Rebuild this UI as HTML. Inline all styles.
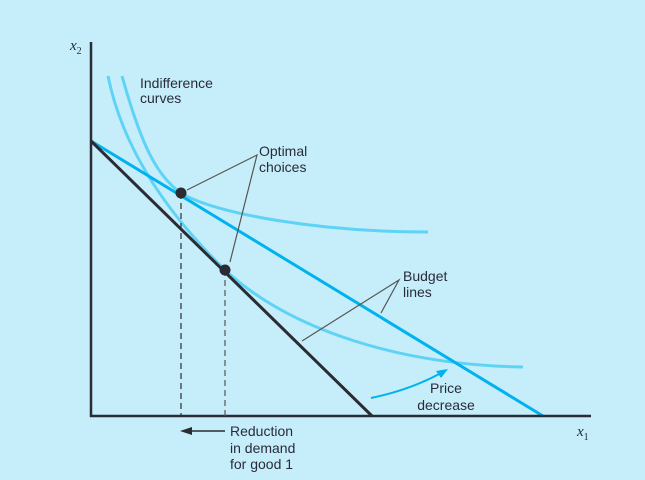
<!DOCTYPE html>
<html><head><style>
body{margin:0;background:#c5eefa;}
svg{display:block;}
text{font-family:"Liberation Sans",sans-serif;font-size:14px;fill:#2a2a3a;}
</style></head><body>
<svg width="645" height="480" viewBox="0 0 645 480">
<rect width="645" height="480" fill="#c5eefa"/>
<!-- indifference curves -->
<path d="M122,76 C140,140 155,175 181,193 C215,214 320,232 428,232" fill="none" stroke="#5fd3f5" stroke-width="3"/>
<path d="M108,76 C125,160 180,226 225,270 C290,330 400,365 523,367" fill="none" stroke="#5fd3f5" stroke-width="3"/>
<!-- budget lines -->
<line x1="91" y1="141" x2="543" y2="416" stroke="#00b2ee" stroke-width="3"/>
<line x1="91" y1="141" x2="372" y2="416" stroke="#2b2b35" stroke-width="3"/>
<!-- axes -->
<line x1="91" y1="42" x2="91" y2="417" stroke="#2b2b35" stroke-width="2.5"/>
<line x1="90" y1="416" x2="591" y2="416" stroke="#2b2b35" stroke-width="2.5"/>
<!-- dashed -->
<line x1="181" y1="193" x2="181" y2="416" stroke="#2b2b35" stroke-width="1.2" stroke-dasharray="6,4"/>
<line x1="225" y1="270" x2="225" y2="416" stroke="#555" stroke-width="1.2" stroke-dasharray="6,4"/>
<!-- points -->
<circle cx="181" cy="193" r="5.5" fill="#2b2b35"/>
<circle cx="225" cy="270" r="5.5" fill="#2b2b35"/>
<!-- leaders -->
<path d="M187,190 L257,155 L230,262" fill="none" stroke="#555" stroke-width="1.2"/>
<path d="M302,341 L399,280 L381,313" fill="none" stroke="#555" stroke-width="1.2"/>
<!-- price arrow -->
<path d="M371,398 Q410,390 441,373" fill="none" stroke="#00b2ee" stroke-width="2"/>
<polygon points="448,369 436,371 441,378" fill="#00b2ee"/>
<!-- reduction arrow -->
<line x1="188" y1="431" x2="225" y2="431" stroke="#2b2b35" stroke-width="1.5"/>
<polygon points="180,431 192,427 192,435" fill="#2b2b35"/>
<!-- labels -->
<text x="140" y="88">Indifference</text>
<text x="140" y="103">curves</text>
<text x="259" y="156">Optimal</text>
<text x="259" y="172">choices</text>
<text x="403" y="281">Budget</text>
<text x="403" y="297">lines</text>
<text x="446" y="393" text-anchor="middle">Price</text>
<text x="446" y="410" text-anchor="middle">decrease</text>
<text x="230" y="436">Reduction</text>
<text x="230" y="453">in demand</text>
<text x="230" y="469">for good 1</text>
<text x="577" y="436" style="font-family:'Liberation Serif',serif;font-style:italic;font-size:15px">x<tspan font-size="10" dy="4" style="font-style:normal">1</tspan></text>
<text x="70" y="50" style="font-family:'Liberation Serif',serif;font-style:italic;font-size:15px">x<tspan font-size="10" dy="4" style="font-style:normal">2</tspan></text>
</svg>
</body></html>
